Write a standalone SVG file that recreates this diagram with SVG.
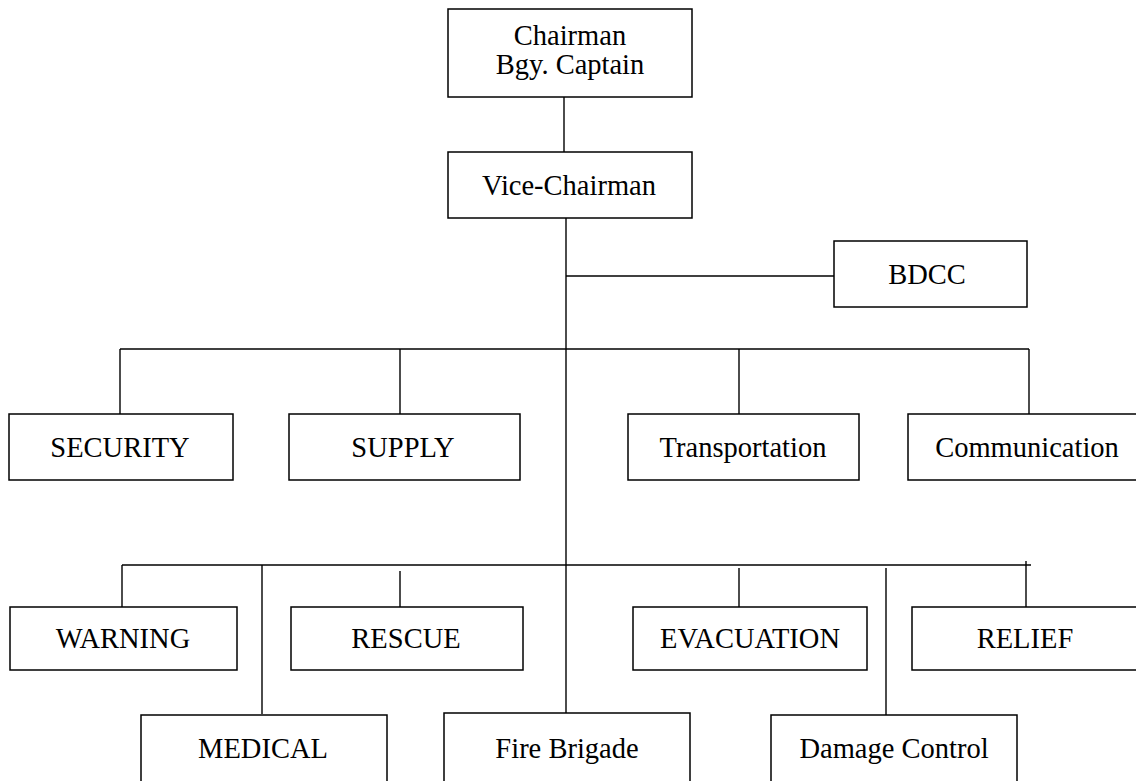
<svg xmlns="http://www.w3.org/2000/svg" width="1136" height="781" viewBox="0 0 1136 781">
<style>
.box{fill:#fff;stroke:#000;stroke-width:1.5}
.t{font-family:"Liberation Serif","Times New Roman",serif;font-size:28.5px;fill:#000;text-anchor:middle}
.c line{stroke:#000;stroke-width:1.4}
</style>
<rect width="1136" height="781" fill="#fff"/>
<g class="c" id="connectors">
<line x1="564" y1="97" x2="564" y2="152"/>
<line x1="566" y1="218" x2="566" y2="714"/>
<line x1="566" y1="276" x2="834" y2="276"/>
<line x1="120" y1="349" x2="1029" y2="349"/>
<line x1="120" y1="349" x2="120" y2="415"/>
<line x1="400" y1="349" x2="400" y2="415"/>
<line x1="739" y1="349" x2="739" y2="414"/>
<line x1="1029" y1="349" x2="1029" y2="414"/>
<line x1="122" y1="565" x2="1031" y2="565"/>
<line x1="122" y1="565" x2="122" y2="608"/>
<line x1="262" y1="565" x2="262" y2="714"/>
<line x1="400" y1="571" x2="400" y2="607"/>
<line x1="739" y1="568" x2="739" y2="607"/>
<line x1="886" y1="568" x2="886" y2="715"/>
<line x1="1026" y1="561" x2="1026" y2="612"/>
</g>
<g id="chairman"><rect class="box" x="448" y="9" width="244" height="88"/><text class="t" x="570" y="45">Chairman</text><text class="t" x="570" y="74">Bgy. Captain</text></g>
<g id="vice"><rect class="box" x="448" y="152" width="244" height="66"/><text class="t" x="569" y="195">Vice-Chairman</text></g>
<g id="bdcc"><rect class="box" x="834" y="241" width="193" height="66"/><text class="t" x="927" y="284">BDCC</text></g>
<g id="security"><rect class="box" x="9" y="414" width="224" height="66"/><text class="t" x="120" y="457">SECURITY</text></g>
<g id="supply"><rect class="box" x="289" y="414" width="231" height="66"/><text class="t" x="403" y="457">SUPPLY</text></g>
<g id="transportation"><rect class="box" x="628" y="414" width="231" height="66"/><text class="t" x="743" y="457">Transportation</text></g>
<g id="communication"><rect class="box" x="908" y="414" width="240" height="66"/><text class="t" x="1027" y="457">Communication</text></g>
<g id="warning"><rect class="box" x="10" y="607" width="227" height="63"/><text class="t" x="123" y="648">WARNING</text></g>
<g id="rescue"><rect class="box" x="291" y="607" width="232" height="63"/><text class="t" x="406" y="648">RESCUE</text></g>
<g id="evacuation"><rect class="box" x="633" y="607" width="234" height="63"/><text class="t" x="750" y="648">EVACUATION</text></g>
<g id="relief"><rect class="box" x="912" y="607" width="240" height="63"/><text class="t" x="1025" y="648">RELIEF</text></g>
<g id="medical"><rect class="box" x="141" y="715" width="246" height="80"/><text class="t" x="263" y="758">MEDICAL</text></g>
<g id="firebrigade"><rect class="box" x="444" y="713" width="246" height="80"/><text class="t" x="567" y="758">Fire Brigade</text></g>
<g id="damagecontrol"><rect class="box" x="771" y="715" width="246" height="80"/><text class="t" x="894" y="758">Damage Control</text></g>
</svg>
